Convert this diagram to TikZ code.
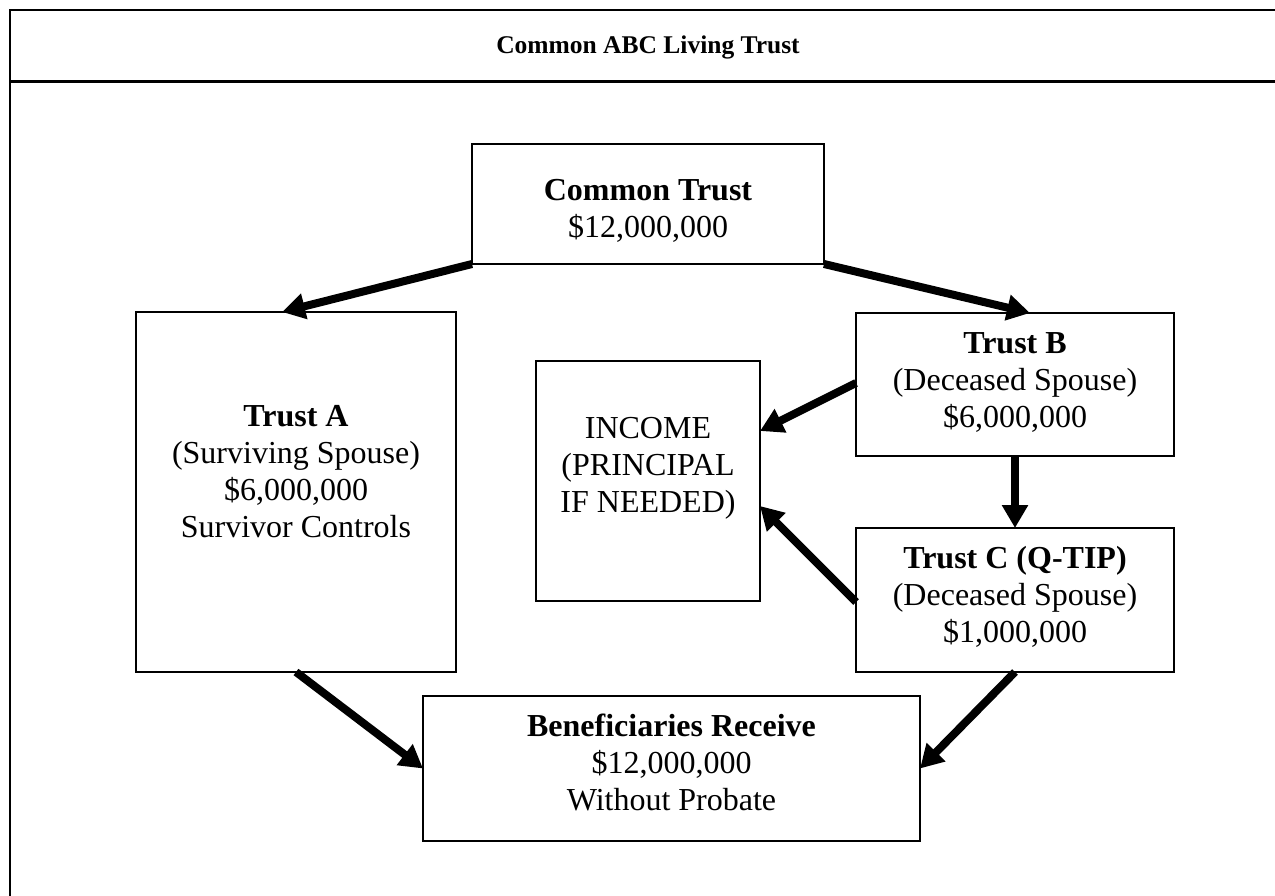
\documentclass[tikz,border=0pt]{standalone}
\usepackage{fontspec}
\setmainfont{Liberation Serif}
\usetikzlibrary{arrows.meta,calc}
\begin{document}
\begin{tikzpicture}[x=1pt,y=-1pt,
  box/.style={draw, line width=1.8pt, inner sep=0pt, outer sep=0pt},
  lbl/.style={align=center, inner sep=0pt, font=\fontsize{32}{37}\selectfont, anchor=base},
  flow/.style={line width=8pt, -{Triangle[length=23pt,width=25pt]}},
]
\useasboundingbox (0,0) rectangle (1275,896);
\clip (0,0) rectangle (1275,896);
\fill[white] (0,0) rectangle (1275,896);
\draw[line width=2pt] (10,906) -- (10,10) -- (1290,10);
\draw[line width=3.5pt] (10,81.5) -- (1290,81.5);
\node[font=\fontsize{25.5}{30}\selectfont\bfseries, anchor=base, inner sep=0pt] (title) at (648,54) {Common ABC Living Trust};

\node[box, minimum width=352pt, minimum height=120pt] (ct) at (648,204) {};
\node[box, minimum width=320pt, minimum height=360pt] (ta) at (296,492) {};
\node[box, minimum width=224pt, minimum height=240pt] (inc) at (648,481) {};
\node[box, minimum width=318pt, minimum height=143pt] (tb) at (1015,384.5) {};
\node[box, minimum width=318pt, minimum height=144pt] (tc) at (1015,600) {};
\node[box, minimum width=497pt, minimum height=145pt] (ben) at (671.5,768.5) {};

\node[lbl] (ct-t) at (648,238) {\textbf{Common Trust}\\\$12,000,000};
\node[lbl] (ta-t) at (296,537) {\textbf{Trust A}\\(Surviving Spouse)\\\$6,000,000\\Survivor Controls};
\node[lbl] (inc-t) at (648,512) {INCOME\\(PRINCIPAL\\IF NEEDED)};
\node[lbl] (tb-t) at (1015,427) {\textbf{Trust B}\\(Deceased Spouse)\\\$6,000,000};
\node[lbl] (tc-t) at (1015,642) {\textbf{Trust C (Q-TIP)}\\(Deceased Spouse)\\\$1,000,000};
\node[lbl] (ben-t) at (671.5,810) {\textbf{Beneficiaries Receive}\\\$12,000,000\\Without Probate};

\draw[flow] (ct.south west) -- ($(ta.north)+(-14,0)$);
\draw[flow] (ct.south east) -- ($(tb.north)+(15,0)$);
\draw[flow] ($(tb.west)+(0,-1.5)$) -- ($(inc.east)+(0,-50)$);
\draw[flow] (tb.south) -- (tc.north);
\draw[flow] ($(tc.west)+(0,2)$) -- ($(inc.east)+(0,25)$);
\draw[flow] (ta.south) -- (ben.west);
\draw[flow] (tc.south) -- (ben.east);
\end{tikzpicture}
\end{document}
